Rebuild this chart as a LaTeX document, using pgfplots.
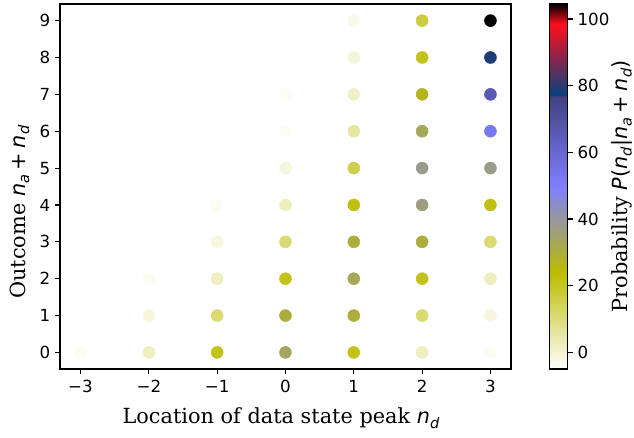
\documentclass[border=0pt]{standalone}
\usepackage{fontspec}
\usepackage{pgfplots}
\pgfplotsset{compat=1.18}
\newfontfamily\dv{DejaVu Sans}
\newfontfamily\dvs{DejaVu Serif}
\newcommand{\fs}{\fontsize{12}{14}\selectfont}
\newcommand{\fl}{\fontsize{15}{18}\selectfont}
\newcommand{\nsub}[1]{{\fl\dv\itshape n}\raisebox{-0.2em}{\fontsize{10.5}{12}\selectfont\dv\itshape #1}}
\newcommand{\msym}[1]{{\fl\dv #1}}
\pgfplotsset{
  colormap={gsr}{rgb(0pt)=(1,1,1) rgb(265pt)=(0.735,0.735,0) rgb(500pt)=(0.5,0.5,1) rgb(749pt)=(0.251,0.251,0.502) rgb(750pt)=(0.027,0.25,0.5) rgb(945pt)=(1,0.0547,0.1094) rgb(1000pt)=(0,0,0)}
}
\begin{document}
\begin{tikzpicture}
\useasboundingbox (-43.2pt,-49pt) rectangle (413.3pt,265.7pt);
\begin{axis}[
  name=main,
  at={(0,0)}, anchor=south west,
  scale only axis, width=324.7pt, height=262.8pt,
  xmin=-3.3, xmax=3.3, ymin=-0.45, ymax=9.45,
  xtick={-3,-2,-1,0,1,2,3},
  xticklabels={−3,−2,−1,0,1,2,3},
  ytick={0,1,2,3,4,5,6,7,8,9},
  yticklabels={0,1,2,3,4,5,6,7,8,9},
  tick pos=left, tick align=outside,
  major tick length=3.5pt,
  every tick/.style={black, line width=0.8pt},
  axis line style={black, line width=0.8pt},
  tick label style={font=\dv\fs},
  xticklabel style={yshift=-1pt},
  colormap name=gsr,
  point meta min=-5, point meta max=104.5,
  xlabel={\fl\dvs Location of data state peak \nsub{d}},
  xlabel style={at={(axis description cs:0.49,0)}, anchor=base, yshift=-39.5pt},
  ylabel={\fl\dvs Outcome \nsub{a}\hspace{0.22em}\msym{+}\hspace{0.22em}\nsub{d}},
  ylabel style={at={(axis description cs:-0.0776,0.43)}, anchor=base},
  colorbar,
  colorbar style={
    at={(parent axis.north east)}, anchor=north west, xshift=19.4pt,
    width=13pt,
    ytick={0,20,40,60,80,100},
    yticklabels={0,20,40,60,80,100},
    yticklabel pos=right, ytick pos=right, tick align=outside,
    major tick length=3.5pt,
    every tick/.style={black, line width=0.8pt},
    axis line style={black, line width=0.8pt},
    tick label style={font=\dv\fs},
    ylabel={\fl\dvs Probability {\fl\dv\itshape P}\msym{(}\nsub{d}\msym{|}\nsub{a}\hspace{0.22em}\msym{+}\hspace{0.22em}\nsub{d}\msym{)}},
    ylabel style={at={(axis description cs:4.3,0.5)}, anchor=base},
  },
]
\addplot[scatter, only marks, mark=*, mark size=4.3pt,
  scatter/use mapped color={draw=mapped color, fill=mapped color},
  point meta=explicit]
table[meta=v] {
x y v
-3 0 -3.5
-2 0 2.3
-1 0 21
0 0 34
1 0 21
2 0 2.3
3 0 -3.5
-2 1 -1.5
-1 1 11
0 1 30
1 1 30
2 1 11
3 1 -1.5
-2 2 -3.5
-1 2 2.3
0 2 21
1 2 33
2 2 21
3 2 2.3
-1 3 -1.5
0 3 11
1 3 30
2 3 30
3 3 11
-1 4 -3.5
0 4 2.3
1 4 22
2 4 37
3 4 22
0 5 -1
1 5 15
2 5 38
3 5 38
0 6 -3.5
1 6 5.7
2 6 33
3 6 53
0 7 -4
1 7 1.4
2 7 27
3 7 66
1 8 -0.9
2 8 21
3 8 79
1 9 -2.7
2 9 17
3 9 104.5
};
\end{axis}
\end{tikzpicture}
\end{document}
